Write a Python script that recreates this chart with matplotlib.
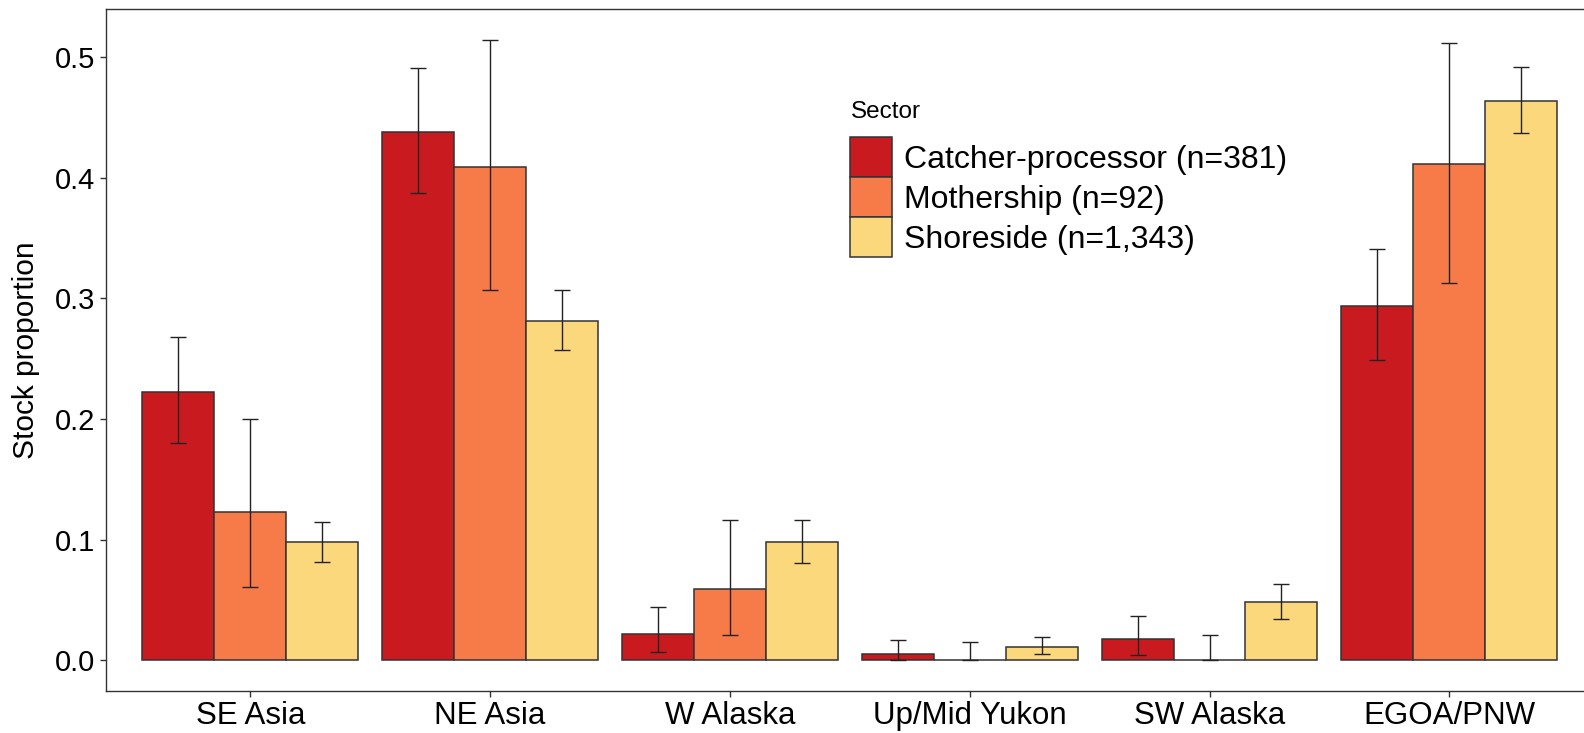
import numpy as np
import matplotlib
matplotlib.use('Agg')
import matplotlib.pyplot as plt

# Proporcje stad wg sektora
regions = ['SE Asia', 'NE Asia', 'W Alaska', 'Up/Mid Yukon', 'SW Alaska', 'EGOA/PNW']
sectors = ['Catcher-processor (n=381)', 'Mothership (n=92)', 'Shoreside (n=1,343)']

cp_mean = [0.222, 0.438, 0.022, 0.0055, 0.018, 0.294]
cp_low = [0.180, 0.387, 0.007, 0.0, 0.004, 0.249]
cp_high = [0.268, 0.491, 0.044, 0.017, 0.037, 0.341]

ms_mean = [0.123, 0.409, 0.059, 0.0, 0.0, 0.411]
ms_low = [0.061, 0.307, 0.021, 0.0, 0.0, 0.313]
ms_high = [0.200, 0.514, 0.116, 0.0155, 0.021, 0.512]

ss_mean = [0.098, 0.281, 0.098, 0.011, 0.048, 0.464]
ss_low = [0.0815, 0.257, 0.081, 0.0053, 0.034, 0.437]
ss_high = [0.115, 0.307, 0.116, 0.0196, 0.063, 0.492]

colors = ['#C91A1F', '#F77B48', '#FCD87C']

plt.rcParams['font.family'] = ['Liberation Sans', 'DejaVu Sans']

fig = plt.figure(figsize=(15.84, 7.33), dpi=100)
ax = fig.add_axes([0.0672, 0.0570, 0.9386, 0.9309])

x = np.arange(1, len(regions) + 1)
w = 0.3
series = [(cp_mean, cp_low, cp_high), (ms_mean, ms_low, ms_high), (ss_mean, ss_low, ss_high)]
for i, (m, lo, hi) in enumerate(series):
    m = np.array(m)
    pos = x + (i - 1) * w
    ax.bar(pos, m, width=w, color=colors[i], edgecolor='#333333', linewidth=1.1,
           label=sectors[i], zorder=2)
    yerr = np.vstack([m - np.array(lo), np.array(hi) - m])
    ax.errorbar(pos, m, yerr=yerr, fmt='none', ecolor='#222222', elinewidth=1.0,
                capsize=5.8, capthick=1.0, zorder=3)

ax.set_xlim(0.4, 6.6)
ax.set_ylim(-0.0257, 0.54)
ax.set_xticks(x)
ax.set_xticklabels(regions, fontsize=22.5)
ax.set_yticks([0.0, 0.1, 0.2, 0.3, 0.4, 0.5])
ax.set_yticklabels(['0.0', '0.1', '0.2', '0.3', '0.4', '0.5'], fontsize=21)
ax.tick_params(axis='both', length=4.3, width=1.0, color='#333333', labelcolor='black')
ax.tick_params(axis='y', pad=4)
ax.tick_params(axis='x', pad=3)
for s in ax.spines.values():
    s.set_color('#333333')
    s.set_linewidth(1.0)

ax.set_ylabel('Stock proportion', fontsize=21.5)
ax.yaxis.set_label_coords(-0.0447, 0.5)

# legenda: tytuł osobno, żeby zachować odstęp jak w oryginale
fig.text(851 / 1584, 1 - 101 / 733, 'Sector', fontsize=17.5, ha='left', va='top')
leg = ax.legend(loc='upper left', bbox_to_anchor=(850 / 1584, 1 - 137 / 733),
                bbox_transform=fig.transFigure, frameon=False, fontsize=23,
                handlelength=1.3, handleheight=1.55,
                labelspacing=0.0, handletextpad=0.38, borderpad=0, borderaxespad=0)

fig.savefig('out.png', dpi=100)
